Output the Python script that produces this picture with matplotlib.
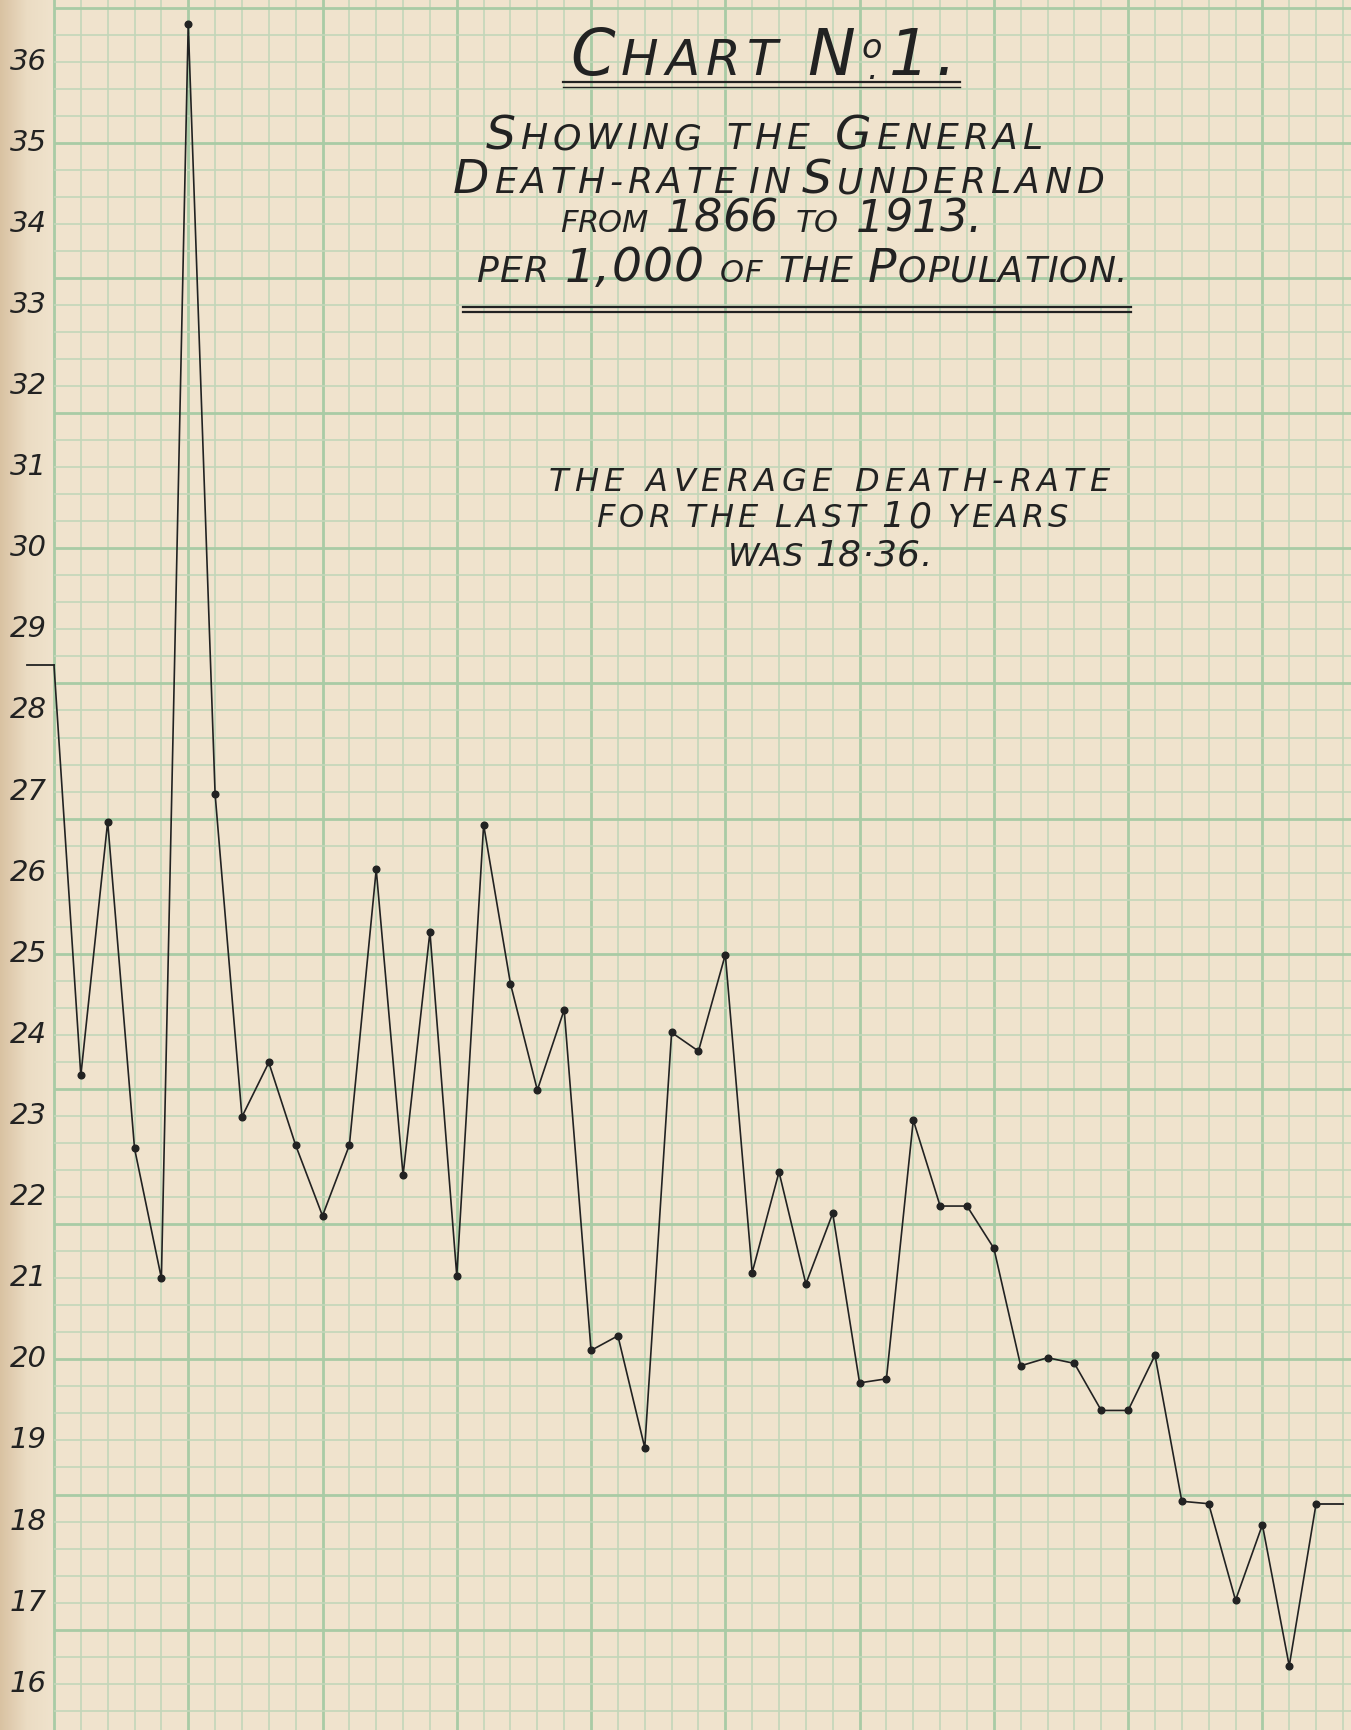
import numpy as np
import matplotlib
matplotlib.use("Agg")
import matplotlib.pyplot as plt
from matplotlib.colors import LinearSegmentedColormap
from matplotlib.transforms import IdentityTransform

# death-rate per 1,000, Sunderland
years = list(range(1866, 1914))
death_rate = [28.56, 23.50, 26.63, 22.60, 21.00, 36.46, 26.97, 22.99, 23.66, 22.64,
              21.77, 22.64, 26.04, 22.27, 25.27, 21.03, 26.59, 24.63, 23.32, 24.31,
              20.11, 20.29, 18.91, 24.03, 23.80, 24.99, 21.07, 22.31, 20.93, 21.80,
              19.71, 19.76, 22.95, 21.89, 21.89, 21.37, 19.92, 20.02, 19.95, 19.37,
              19.37, 20.05, 18.25, 18.22, 17.03, 17.96, 16.22, 18.22]
y_labels = list(range(16, 37))

W, H = 1351, 1730
PX = IdentityTransform()
paper = "#f0e3cd"
green_minor = "#c3d6b9"
green_major = "#a9cba5"
ink = "#222222"

fig = plt.figure(figsize=(W / 100, H / 100), dpi=100)
fig.patch.set_facecolor(paper)
ax = fig.add_axes([0, 0, 1, 1])
ax.set_facecolor(paper)
x0, x1 = 1863.99, 1914.3
y0, y1 = 15.43, 36.76

# shaded margin on the left (binding side)
margin = LinearSegmentedColormap.from_list("margin", ["#d9c2a2", "#ebdcc3", paper])
ax.imshow(np.linspace(0, 1, 100)[None, :], extent=(x0, 1866, y0, y1),
          cmap=margin, aspect="auto", zorder=0)

# graph paper: one column per year, three rows per unit
for yr in range(1866, 1915):
    major = (yr - 1866) % 5 == 0
    ax.axvline(yr, color=green_major if major else green_minor,
               lw=2.0 if major else 1.2, zorder=1)
for k in range(int(np.ceil((y0 - 20) * 3)), int(np.floor((y1 - 20) * 3)) + 1):
    major = k % 5 == 0
    ax.hlines(20 + k / 3, 1866, x1, color=green_major if major else green_minor,
              lw=2.0 if major else 1.2, zorder=1)

# the series
ax.plot(years, death_rate, color=ink, lw=1.2, zorder=5)
ax.plot(years[1:], death_rate[1:], "o", color=ink, ms=4.8, zorder=6)
ax.plot([years[0] - 1, years[0]], [death_rate[0]] * 2, color=ink, lw=1.3, zorder=5)
ax.plot([years[-1], years[-1] + 1], [death_rate[-1]] * 2, color=ink, lw=1.3, zorder=5)

for v in y_labels:
    ax.text(1865.72, v, str(v), ha="right", va="center", fontsize=21,
            style="oblique", color=ink, zorder=6)

ax.set_xlim(x0, x1)
ax.set_ylim(y0, y1)
ax.axis("off")

renderer = fig.canvas.get_renderer()


def letter_line(xc, yb, words, width, gap):
    # hand-lettered line: fixed word gaps, glyphs spread evenly to fill the width
    glyphs = []
    for wi, word in enumerate(words):
        for piece in word:
            s, size = piece[0], piece[1]
            dy = piece[2] if len(piece) > 2 else 0
            chars = [s] if "\n" in s else list(s)
            for ch in chars:
                t = ax.text(0, 0, ch, fontsize=size, style="oblique", color=ink,
                            transform=PX, ha="left", va="baseline", zorder=7,
                            linespacing=0.55, multialignment="center")
                glyphs.append((t, t.get_window_extent(renderer).width, wi, dy))
    inked = sum(g[1] for g in glyphs)
    track = (width - inked - gap * (len(words) - 1)) / max(len(glyphs) - len(words), 1)
    x = xc - width / 2
    prev = 0
    for i, (t, w, wi, dy) in enumerate(glyphs):
        if i > 0:
            x += track if wi == prev else gap
        t.set_position((x, H - yb + dy))
        x += w
        prev = wi


def rule(xa, xb, y, lw):
    ax.plot([xa, xb], [H - y, H - y], color=ink, lw=lw, transform=PX, zorder=7)


letter_line(763, 75, [[("C", 46), ("HART", 36)],
                      [("N", 46), ("o\n.", 24, -4), ("1.", 46)]], 386, 30)
rule(563, 960, 82, 1.6)
rule(563, 960, 87, 1.0)

letter_line(764, 149, [[("S", 34), ("HOWING", 26)], [("THE", 26)],
                       [("G", 34), ("ENERAL", 26)]], 557, 26)
letter_line(778, 193, [[("D", 34), ("EATH-RATE", 26)], [("IN", 26)],
                       [("S", 34), ("UNDERLAND", 26)]], 651, 12)
letter_line(771, 232, [[("FROM", 22)], [("1866", 32)], [("TO", 22)], [("1913.", 32)]], 421, 18)
letter_line(802, 282, [[("PER", 26)], [("1,000", 34)], [("OF", 22)], [("THE", 26)],
                       [("P", 34), ("OPULATION.", 26)]], 651, 16)
rule(463, 1131, 307, 1.6)
rule(463, 1131, 312, 1.6)

letter_line(829, 491, [[("THE", 23)], [("AVERAGE", 23)], [("DEATH-RATE", 23)]], 560, 22)
letter_line(832, 527, [[("FOR", 23)], [("THE", 23)], [("LAST", 23)], [("10", 26)],
                       [("YEARS", 23)]], 472, 16)
letter_line(830, 566, [[("WAS", 23)], [("18·36.", 26)]], 204, 12)

fig.savefig("out.png", dpi=100, facecolor=fig.get_facecolor())
